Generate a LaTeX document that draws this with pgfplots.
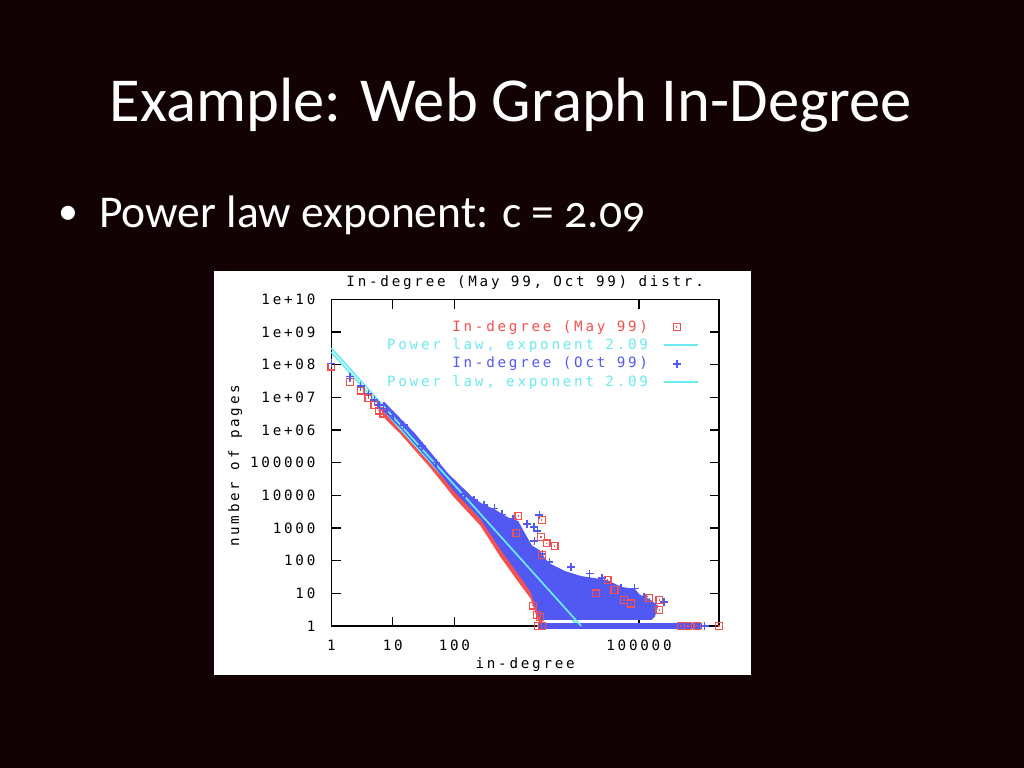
\documentclass[border=0pt]{standalone}
\usepackage{pgfplots}
\pgfplotsset{compat=1.18}
\usepackage{fontspec}
\setmainfont{Carlito}[Numbers=OldStyle]
\newfontfamily\gp{DejaVu Sans Mono}[LetterSpace=19.5]
\newcommand\gpfont{\gp\fontsize{10}{12}\selectfont}
\definecolor{bg}{RGB}{18,2,4}
\definecolor{gpred}{RGB}{245,80,80}
\definecolor{gpblue}{RGB}{82,88,242}
\definecolor{gpcyan}{RGB}{105,235,240}
\pgfdeclareplotmark{sqdot}{%
  \pgfpathrectangle{\pgfqpoint{-\pgfplotmarksize}{-\pgfplotmarksize}}{\pgfqpoint{2\pgfplotmarksize}{2\pgfplotmarksize}}%
  \pgfusepathqstroke
  \pgfpathrectangle{\pgfqpoint{-0.5pt}{-0.5pt}}{\pgfqpoint{1pt}{1pt}}%
  \pgfusepathqfill}
\pgfplotsset{
  gpline/.style={legend image code/.code={\draw[##1] (0pt,0pt) -- (24pt,0pt);}},
  gpmark/.style={legend image code/.code={\draw[##1] plot coordinates {(9pt,0pt)};}},
  rsq/.style={gpred, only marks, mark=sqdot, mark size=2.4pt, line width=0.9pt},
  bpl/.style={gpblue, only marks, mark=+, mark size=2.8pt, line width=1.1pt},
}
\begin{document}
\begin{tikzpicture}[x=0.703125pt,y=0.703125pt]
\fill[bg] (0,0) rectangle (1024,768);
\node[anchor=base, text=white, font=\fontsize{44}{50}\selectfont, inner sep=0pt] at (511,646) {Example: Web Graph In-Degree};
\node[anchor=base west, text=white, font=\fontsize{32}{38}\selectfont, inner sep=0pt] at (99,540) {Power law exponent: c = 2.09};
\node[text=white, font=\fontsize{28}{34}\selectfont, inner sep=0pt] at (68,553) {•};
\fill[white] (214,93) rectangle (751,497);
\begin{axis}[
  at={(232.95pt,99.84pt)}, anchor=south west, scale only axis,
  width=272.6pt, height=229.7pt,
  xmode=log, ymode=log, xmin=1, xmax=2e6, ymin=1, ymax=1e10,
  clip=false,
  axis line style={black, line width=1.05pt},
  every tick/.style={black, line width=0.9pt},
  tick align=inside, major tick length=6.6pt,
  minor tick style={draw=none},
  xtick={1,10,100,100000}, xticklabels={1,10,100,100000},
  ytick={1,10,100,1000,10000,100000,1000000,10000000,100000000,1000000000,10000000000},
  yticklabels={1,10,100,1000,10000,100000,1e+06,1e+07,1e+08,1e+09,1e+10},
  ticklabel style={font=\gpfont, inner sep=0pt},
  yticklabel style={anchor=east, xshift=-11pt},
  xticklabel style={anchor=north, yshift=-9.8pt},
  title={In-degree (May 99, Oct 99) distr.},
  title style={font=\gpfont, at={(axis description cs:0.5,1)}, anchor=base, yshift=2.9pt, inner sep=0pt},
  xlabel={in-degree},
  xlabel style={font=\gpfont, at={(axis description cs:0.5,0)}, anchor=base, yshift=-29.7pt, inner sep=0pt},
  ylabel={number of pages},
  ylabel style={font=\gpfont, at={(axis description cs:-0.238,0.49)}, anchor=base, inner sep=0pt},
  legend style={draw=none, fill=none, font=\gpfont, inner sep=0pt, outer sep=0pt,
    at={(rel axis cs:1,1)}, anchor=north east, xshift=-14pt, yshift=-14.3pt,
    row sep=2.4pt, column sep=10.5pt,
    nodes={inner sep=0pt, text height=8pt, text depth=2.5pt}},
  legend cell align=right, legend plot pos=right,
]
% red band (May 99)
\addplot[gpred, fill=gpred, line width=1pt, forget plot] coordinates {
(7.08,4.17e6) (13.5,1.58e6) (41.7,1.58e5) (100,2.24e4) (269,3160) (575,631)
(1070,126) (1780,25.1) (2400,6.31) (2630,2.0) (2630,1.32) (2400,1.41)
(2140,2.45) (1780,7.08) (1070,25.7) (575,132) (269,1230) (100,9120)
(41.7,7.1e4) (13.5,7.9e5) (7.08,2.63e6) (7.08,4.17e6)};
\addplot[rsq, forget plot] coordinates {
(1,8.7e7) (2,3.0e7) (3,1.6e7) (4,9.3e6) (5,5.8e6) (6,3.9e6) (7,3.2e6)
(1900,4.2) (2200,2.2) (2300,1) (2630,1)};
% power law (May 99)
\addplot[gpcyan, line width=1.2pt, forget plot] coordinates {(1,2.4e8) (10200,1)};
% blue region (Oct 99)
\addplot[gpblue, fill=gpblue, line width=1pt, forget plot] coordinates {
(7.08,7.08e6) (21.9,8.0e5) (77.6,4.5e4) (200,7940) (282,5250) (447,3550)
(741,2000) (1070,1580) (1260,891) (1780,282) (2400,200) (2820,126) (3310,83)
(6170,46) (11500,32) (16600,29) (30900,24) (51300,15) (85100,13) (100000,8.9)
(148000,6.3) (200000,4.0) (178000,2.0) (158000,1.62) (2510,1.62)
(2140,3.98) (1780,11.2) (1070,44.7) (575,224) (269,2000) (100,14100)
(41.7,1.1e5) (13.5,1.2e6) (7.08,3.98e6) (7.08,7.08e6)};
\addplot[gpblue, line width=4.9pt, forget plot] coordinates {(2290,1) (1.05e6,1)};
\addplot[bpl, forget plot] coordinates {
(1,1.1e8) (2,4.3e7) (3,2.2e7) (4,1.3e7) (5,8.3e6) (6,5.8e6) (7,4.6e6) (8,4.0e6)
(10,2.8e6) (15,1.4e6) (30,3.3e5) (50,1.0e5) (150,1.1e4)
(209,7240) (447,3980) (300,5000) (600,2600) (900,1900) (1500,1300)
(2400,2510) (1950,1070) (2240,794) (2000,398) (2700,160) (3500,90)
(7940,63) (15800,40) (25000,30) (51300,14.1) (85100,14.1) (95500,4.9)
(120000,8) (158000,2.19) (257000,5.5) (1.17e6,1)};
% red outliers visible on top
\addplot[rsq, forget plot] coordinates {
(1100,2340) (2630,1740) (3160,339) (4270,282) (2630,148) (1020,692) (2570,537)
(2450,1.9) (30900,25.7) (20000,10) (40000,12.6) (57500,6.3) (74000,4.9)
(148000,7.08) (214000,6.31) (214000,3.09) (479000,1) (631000,1) (891000,1) (2e6,1)};
% power law (Oct 99)
\addplot[gpcyan, line width=1.2pt, forget plot] coordinates {(1,3.2e8) (11500,1)};
% legend
\addlegendimage{rsq, gpmark}
\addlegendentry[text=gpred]{In-degree (May 99)}
\addlegendimage{gpcyan, line width=1.4pt, gpline}
\addlegendentry[text=gpcyan]{Power law, exponent 2.09}
\addlegendimage{bpl, gpmark}
\addlegendentry[text=gpblue]{In-degree (Oct 99)}
\addlegendimage{gpcyan, line width=1.4pt, gpline}
\addlegendentry[text=gpcyan]{Power law, exponent 2.09}
\end{axis}
\end{tikzpicture}
\end{document}
